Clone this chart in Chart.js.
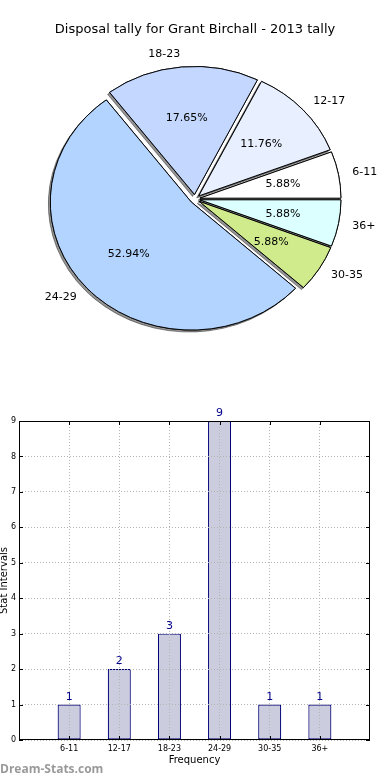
<!DOCTYPE html>
<html lang="en">
<head>
<meta charset="UTF-8">
<title>Disposal tally for Grant Birchall - 2013 tally</title>
<script src="https://cdn.jsdelivr.net/npm/chart.js"></script>
<style>
  html, body { margin: 0; padding: 0; background: #fff; }
  .wrap { position: relative; width: 390px; height: 780px; overflow: hidden; }
  #pieChart { position: absolute; left: 0; top: 0; }
  #barChart { position: absolute; left: 0; top: 380px; }
</style>
</head>
<body>
<div class="wrap">
  <canvas id="pieChart" width="390" height="380"></canvas>
  <canvas id="barChart" width="390" height="400"></canvas>
</div>
<script>
// data
const chartTitle = 'Disposal tally for Grant Birchall - 2013 tally';
const categories = ['6-11', '12-17', '18-23', '24-29', '30-35', '36+'];
const tally = [1, 2, 3, 9, 1, 1];
const sliceColors = ['#ffffff', '#e8efff', '#c4d8ff', '#b3d4ff', '#cfeb8c', '#dcffff'];
const yTicks = [0, 1, 2, 3, 4, 5, 6, 7, 8, 9];

const FONT = '"DejaVu Sans", sans-serif';
const PIE_R = 141;          // horizontal radius
const PIE_SY = 128 / 141;   // the pie is a bit squashed, like the original
const EXPLODE = 5;

// matplotlib goes counter-clockwise from 3 o'clock, chart.js clockwise -> reverse
const pieOrder = categories.map((c, i) => i).reverse();

const piePlugin = {
  id: 'mplPie',
  beforeDatasetsDraw(chart) {
    const ctx = chart.ctx;
    const arcs = chart.getDatasetMeta(0).data;
    const cx = arcs[0].x, cy = arcs[0].y;
    const pass = (shadow) => {
      arcs.forEach(arc => {
        const mid = (arc.startAngle + arc.endAngle) / 2;
        ctx.save();
        if (shadow) {
          ctx.shadowColor = 'rgba(0,0,0,0.42)';
          ctx.shadowOffsetX = -2;
          ctx.shadowOffsetY = 2;
          ctx.shadowBlur = 0;
        }
        ctx.translate(cx, cy);
        ctx.scale(1, PIE_SY);
        ctx.translate(Math.cos(mid) * EXPLODE - cx, Math.sin(mid) * EXPLODE - cy);
        arc.draw(ctx);
        ctx.restore();
      });
    };
    pass(true);
    pass(false);
    return false;
  },
  afterDraw(chart) {
    const ctx = chart.ctx;
    const arcs = chart.getDatasetMeta(0).data;
    const values = chart.data.datasets[0].data;
    const total = values.reduce((a, b) => a + b, 0);
    const cx = arcs[0].x, cy = arcs[0].y;
    ctx.save();
    ctx.fillStyle = '#000';
    ctx.font = '13px ' + FONT;
    ctx.textAlign = 'center';
    ctx.textBaseline = 'middle';
    ctx.fillText(chartTitle, 195, 30);

    ctx.font = '11px ' + FONT;
    arcs.forEach((arc, k) => {
      const mid = (arc.startAngle + arc.endAngle) / 2;
      const c = Math.cos(mid), s = Math.sin(mid);
      const lr = EXPLODE + 1.1 * PIE_R;
      ctx.textAlign = c > 0 ? 'left' : 'right';
      ctx.fillText(chart.data.labels[k], cx + lr * c, cy + lr * s * PIE_SY);
      const pr = EXPLODE + 0.6 * PIE_R;
      ctx.textAlign = 'center';
      ctx.fillText((values[k] / total * 100).toFixed(2) + '%', cx + pr * c, cy + pr * s * PIE_SY);
    });
    ctx.restore();
  }
};

new Chart(document.getElementById('pieChart'), {
  type: 'pie',
  data: {
    labels: pieOrder.map(i => categories[i]),
    datasets: [{
      data: pieOrder.map(i => tally[i]),
      backgroundColor: pieOrder.map(i => sliceColors[i]),
      borderColor: '#000',
      borderWidth: 1
    }]
  },
  options: {
    responsive: false,
    animation: false,
    rotation: 90,
    radius: PIE_R,
    layout: { padding: { top: 18 } },
    plugins: { legend: { display: false }, tooltip: { enabled: false } }
  },
  plugins: [piePlugin]
});

// bar chart
const barPlugin = {
  id: 'mplBar',
  afterDraw(chart) {
    const ctx = chart.ctx;
    const { left, right, top, bottom } = chart.chartArea;
    const xs = chart.scales.x, ys = chart.scales.y;
    ctx.save();
    ctx.strokeStyle = '#000';
    ctx.lineWidth = 1;
    ctx.beginPath();
    yTicks.forEach(v => {
      const p = Math.round(ys.getPixelForValue(v)) + 0.5;
      ctx.moveTo(left, p); ctx.lineTo(left + 4, p);
      ctx.moveTo(right - 4, p); ctx.lineTo(right, p);
    });
    categories.forEach((c, i) => {
      const p = Math.round(xs.getPixelForValue(i + 1)) + 0.5;
      ctx.moveTo(p, bottom); ctx.lineTo(p, bottom - 4);
      ctx.moveTo(p, top); ctx.lineTo(p, top + 4);
    });
    ctx.stroke();
    ctx.strokeRect(Math.round(left) + 0.5, Math.round(top) + 0.5,
                   Math.round(right - left) - 1, Math.round(bottom - top) - 1);

    // value labels
    ctx.fillStyle = '#00008b';
    ctx.font = '11px ' + FONT;
    ctx.textAlign = 'center';
    ctx.textBaseline = 'bottom';
    chart.getDatasetMeta(0).data.forEach((bar, i) => {
      ctx.fillText(String(tally[i]), bar.x, bar.y - 2);
    });

    // axis titles
    ctx.fillStyle = '#000';
    ctx.font = '10px ' + FONT;
    ctx.textBaseline = 'middle';
    ctx.fillText('Frequency', (left + right) / 2, 380);
    ctx.save();
    ctx.translate(4, (top + bottom) / 2);
    ctx.rotate(-Math.PI / 2);
    ctx.fillText('Stat Intervals', 0, 0);
    ctx.restore();

    // watermark
    ctx.fillStyle = '#9a9a9a';
    ctx.font = 'bold 12px "Open Sans", sans-serif';
    ctx.textAlign = 'left';
    ctx.fillText('Dream-Stats.com', 0, 390);
    ctx.restore();
  }
};

new Chart(document.getElementById('barChart'), {
  type: 'bar',
  data: {
    datasets: [{
      data: tally.map((v, i) => ({ x: i + 1, y: v })),
      backgroundColor: '#ccccdf',
      borderColor: '#000078',
      borderWidth: 1.2,
      borderSkipped: false,
      barPercentage: 0.46,
      categoryPercentage: 1
    }]
  },
  options: {
    responsive: false,
    animation: false,
    layout: { padding: { top: 41, right: 20, left: 0, bottom: 0 } },
    plugins: { legend: { display: false }, tooltip: { enabled: false } },
    scales: {
      x: {
        type: 'linear',
        min: 0,
        max: 7,
        offset: false,
        afterBuildTicks: axis => { axis.ticks = categories.map((c, i) => ({ value: i + 1 })); },
        afterFit: scale => { scale.height = 40; },
        ticks: {
          callback: v => categories[v - 1] || '',
          font: { family: FONT, size: 8 },
          color: '#000',
          padding: 4,
          maxRotation: 0,
          autoSkip: false
        },
        grid: { color: '#b4b4b4', drawTicks: false, offset: false, z: 1 },
        border: { display: false, dash: [1, 2] }
      },
      y: {
        min: 0,
        max: 9,
        afterBuildTicks: axis => { axis.ticks = yTicks.map(v => ({ value: v })); },
        afterFit: scale => { scale.width = 19; },
        ticks: {
          font: { family: FONT, size: 8 },
          color: '#000',
          padding: 3
        },
        grid: { color: '#b4b4b4', drawTicks: false, z: 1 },
        border: { display: false, dash: [1, 2] }
      }
    }
  },
  plugins: [barPlugin]
});
</script>
</body>
</html>
